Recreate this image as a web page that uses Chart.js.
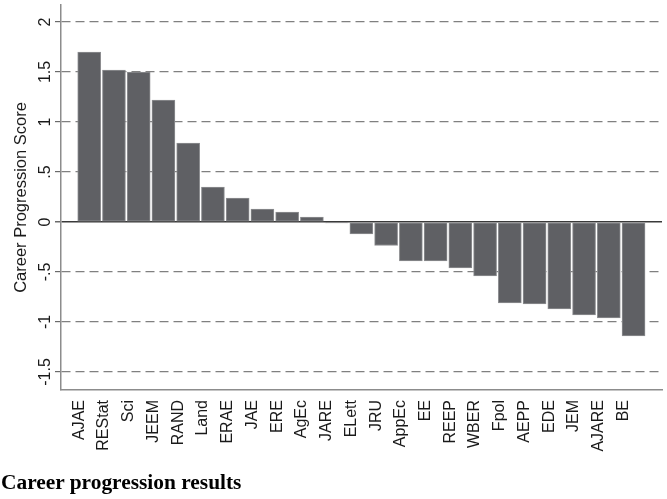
<!DOCTYPE html>
<html>
<head>
<meta charset="utf-8">
<script src="https://cdn.jsdelivr.net/npm/chart.js@4/dist/chart.umd.min.js"></script>
<style>
html,body{margin:0;padding:0;background:#fff;}
#wrap{position:relative;width:667px;height:499px;}
#caption{position:absolute;left:1px;top:472px;font-family:"Liberation Serif","Times New Roman",serif;font-weight:bold;font-size:21.4px;line-height:21.4px;color:#000;white-space:nowrap;}
</style>
</head>
<body>
<div id="wrap">
<canvas id="c" width="667" height="499"></canvas>
<div id="caption">Career progression results</div>
</div>
<script>
const categories = ["AJAE","REStat","Sci","JEEM","RAND","Land","ERAE","JAE","ERE","AgEc","JARE","ELett","JRU","AppEc","EE","REEP","WBER","Fpol","AEPP","EDE","JEM","AJARE","BE"];
const scores = [1.70,1.52,1.50,1.22,0.79,0.35,0.24,0.13,0.10,0.05,-0.01,-0.12,-0.235,-0.39,-0.39,-0.46,-0.54,-0.81,-0.82,-0.87,-0.93,-0.96,-1.14];
const yTicks = [-1.5,-1,-0.5,0,0.5,1,1.5,2];
const yTickLabels = ["-1.5","-1","-.5","0",".5","1","1.5","2"];
const yTitle = "Career Progression Score";

const FONT = '"Liberation Sans", Arial, sans-serif';

const labelPlugin = {
  id: 'rotLabels',
  afterDraw(chart) {
    const ctx = chart.ctx;
    const ys = chart.scales.y;
    ctx.save();
    ctx.fillStyle = '#1a1a1a';
    ctx.font = '16px ' + FONT;
    ctx.textAlign = 'center';
    ctx.textBaseline = 'alphabetic';
    yTicks.forEach((v, i) => {
      const py = ys.getPixelForValue(v);
      ctx.save();
      ctx.translate(50, py);
      ctx.rotate(-Math.PI / 2);
      ctx.fillText(yTickLabels[i], 0, 0);
      ctx.restore();
    });
    const ca = chart.chartArea;
    ctx.font = '16.5px ' + FONT;
    ctx.save();
    ctx.translate(26, (ca.top + ca.bottom) / 2);
    ctx.rotate(-Math.PI / 2);
    ctx.fillText(yTitle, 0, 0);
    ctx.restore();
    ctx.restore();
  }
};

new Chart(document.getElementById('c'), {
  type: 'bar',
  data: {
    datasets: [{
      data: scores.map((v, i) => ({x: i, y: v})),
      backgroundColor: '#5f6064',
      borderColor: '#8e8f92',
      borderWidth: 1,
      borderSkipped: false,
      barThickness: 23
    }]
  },
  options: {
    responsive: false,
    animation: false,
    events: [],
    layout: {padding: {top: 5, right: 5, left: 0, bottom: 0}},
    plugins: {legend: {display: false}, tooltip: {enabled: false}},
    scales: {
      x: {
        type: 'linear',
        offset: false,
        min: -1.14,
        max: 23.15,
        afterBuildTicks: s => { s.ticks = categories.map((c, i) => ({value: i})); },
        afterFit: s => { s.height = 109; },
        grid: {display: false, drawTicks: false, offset: false},
        border: {display: true, color: '#8c8c8c', width: 1.5},
        ticks: {
          autoSkip: false,
          minRotation: 90,
          maxRotation: 90,
          padding: 10,
          labelOffset: -10,
          color: '#1a1a1a',
          font: {family: FONT, size: 16},
          callback: v => categories[v]
        }
      },
      y: {
        min: -1.68,
        max: 2.17,
        afterBuildTicks: s => { s.ticks = yTicks.map(v => ({value: v})); },
        afterFit: s => { s.width = 61; },
        grid: {
          display: true,
          drawTicks: true,
          tickLength: 6,
          tickColor: '#6a6a6a',
          tickBorderDash: [],
          color: c => (c.tick && c.tick.value === 0) ? '#3a3a3a' : '#808080',
          lineWidth: c => (c.tick && c.tick.value === 0) ? 1.5 : 1.2
        },
        border: {
          display: true,
          color: '#8c8c8c',
          width: 1.5,
          dash: c => (c.tick && c.tick.value === 0) ? [] : [9, 5]
        },
        ticks: {display: false}
      }
    }
  },
  plugins: [labelPlugin]
});
</script>
</body>
</html>
